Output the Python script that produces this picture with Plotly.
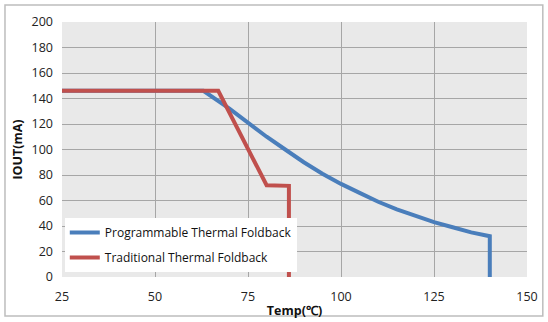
import plotly.graph_objects as go

prog_temp = [25, 63, 70, 75, 80, 85, 90, 95, 100, 105, 110, 115, 120, 125, 130, 135, 140, 140]
prog_iout = [146, 146, 132, 121, 110, 100, 90, 81, 73, 66, 59, 53, 48, 43, 39, 35, 32, 0]

trad_temp = [25, 67, 80, 86, 86]
trad_iout = [146, 146, 72, 71.5, 0]

x_ticks = [25, 50, 75, 100, 125, 150]
y_ticks = [0, 20, 40, 60, 80, 100, 120, 140, 160, 180, 200]

fig = go.Figure()
fig.add_trace(go.Scatter(x=prog_temp, y=prog_iout, mode="lines",
                         name="Programmable Thermal Foldback", legendgroup="a",
                         line=dict(color="#4a7ebb", width=4)))
fig.add_trace(go.Scatter(x=trad_temp, y=trad_iout, mode="lines",
                         name="Traditional Thermal Foldback", legendgroup="b",
                         line=dict(color="#c0504d", width=4)))

fig.update_layout(
    width=548, height=322,
    margin=dict(l=62, r=21, t=22, b=45),
    paper_bgcolor="white", plot_bgcolor="#e9e9e9",
    font=dict(family="Open Sans", size=12, color="#222"),
    showlegend=True,
    legend=dict(x=0.006, y=0.231, xanchor="left", yanchor="top",
                bgcolor="white", font=dict(size=12, color="#111"),
                tracegroupgap=6, itemwidth=30),
    xaxis=dict(range=[25, 150], tickvals=x_ticks, showgrid=True, gridcolor="#a6a6a6",
               gridwidth=1, zeroline=False, showline=False, ticks="", ticklabelstandoff=10,
               automargin=False,
               tickfont=dict(size=12.5, color="#222"),
               title=dict(text="<b>Temp(℃)</b>", font=dict(size=12.5, color="#111"), standoff=2)),
    yaxis=dict(range=[0, 200], tickvals=y_ticks, showgrid=True, gridcolor="#a6a6a6",
               gridwidth=1, zeroline=False, showline=False, ticks="", ticklabelstandoff=8,
               automargin=False,
               tickfont=dict(size=12.5, color="#222"),
               title=dict(text="<b>IOUT(mA)</b>", font=dict(size=12.5, color="#111"), standoff=6)),
    shapes=[dict(type="rect", xref="paper", yref="paper", x0=-0.1226, x1=1.034,
                 y0=-0.153, y1=1.067, line=dict(color="#bdbdbd", width=1.5), layer="below")],
)

fig.write_html("out.html")
